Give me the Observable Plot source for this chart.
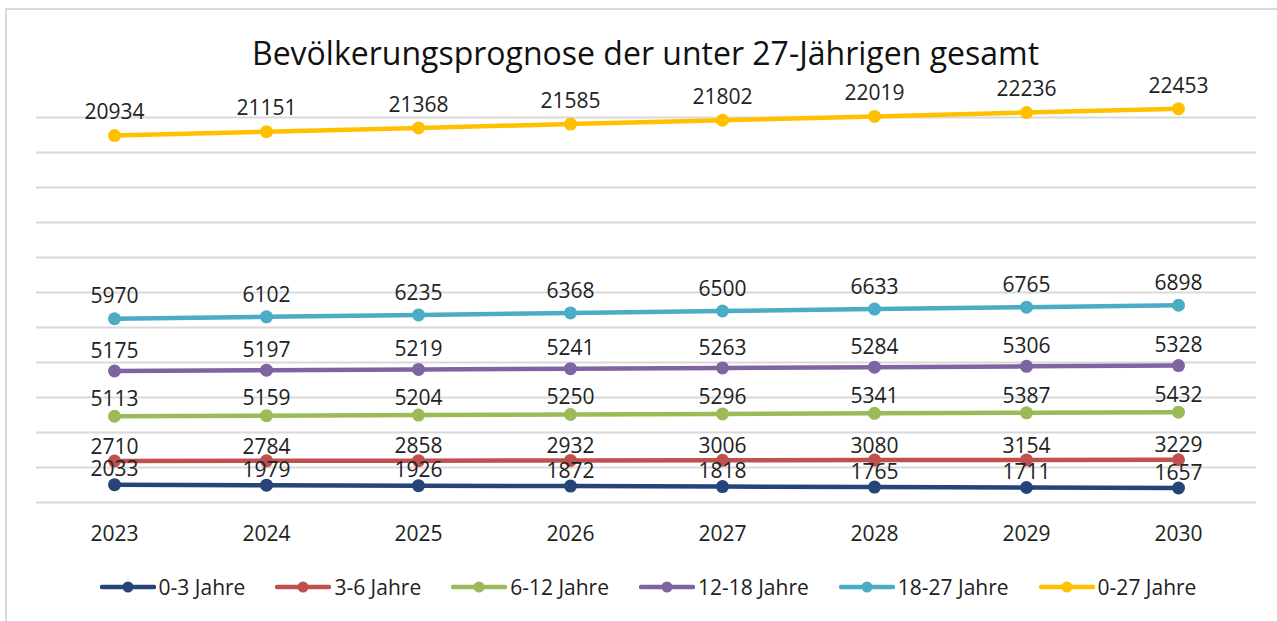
<!DOCTYPE html>
<html>
<head>
<meta charset="utf-8">
<script src="https://cdn.jsdelivr.net/npm/d3@7"></script>
<script src="https://cdn.jsdelivr.net/npm/@observablehq/plot@0.6"></script>
<style>
  html, body { margin: 0; padding: 0; background: #fff; }
  #wrap { position: relative; width: 1277px; height: 621px; overflow: hidden; font-family: "Open Sans", sans-serif; }
  #frame { position: absolute; left: 5px; top: 8px; width: 1300px; height: 700px; border-left: 2px solid #d9d9d9; border-top: 2px solid #d9d9d9; }
  #title { position: absolute; left: 0; width: 1291px; top: 31px; text-align: center; font-size: 32px; color: #111; white-space: nowrap; }
  #chart { position: absolute; left: 0; top: 0; }
  #legend { position: absolute; left: 36px; width: 1224px; top: 573px; display: flex; justify-content: center; gap: 30px; font-size: 21px; color: #222; }
  .item { display: flex; align-items: center; gap: 3px; white-space: nowrap; }
</style>
</head>
<body>
<div id="wrap">
  <div id="frame"></div>
  <div id="chart"></div>
  <div id="title">Bevölkerungsprognose der unter 27-Jährigen gesamt</div>
  <div id="legend"></div>
</div>
<script>
const years = ["2023", "2024", "2025", "2026", "2027", "2028", "2029", "2030"];
const seriesNames = ["0-3 Jahre", "3-6 Jahre", "6-12 Jahre", "12-18 Jahre", "18-27 Jahre", "0-27 Jahre"];
const v0_3   = [2033, 1979, 1926, 1872, 1818, 1765, 1711, 1657];
const v3_6   = [2710, 2784, 2858, 2932, 3006, 3080, 3154, 3229];
const v6_12  = [5113, 5159, 5204, 5250, 5296, 5341, 5387, 5432];
const v12_18 = [5175, 5197, 5219, 5241, 5263, 5284, 5306, 5328];
const v18_27 = [5970, 6102, 6235, 6368, 6500, 6633, 6765, 6898];
const v0_27  = [20934, 21151, 21368, 21585, 21802, 22019, 22236, 22453];
const seriesValues = [v0_3, v3_6, v6_12, v12_18, v18_27, v0_27];

// styles (separate from data)
const colors = ["#264478", "#C0504D", "#9BBB59", "#8064A2", "#4BACC6", "#FFC000"];
const labelDy = [-15, -14, -17, -20, -22, -23];

// stacked line chart table (cumulative per year)
const table = [];
years.forEach((yr, i) => {
  let cum = 0;
  seriesNames.forEach((s, k) => {
    cum += seriesValues[k][i];
    table.push({year: yr, series: s, value: seriesValues[k][i], top: cum});
  });
});

const textColor = "#222";
const marks = [
  Plot.gridY({ticks: d3.range(0, 44001, 4000), stroke: "#d9d9d9", strokeOpacity: 1, strokeWidth: 2}),
  Plot.axisX({tickSize: 0, tickPadding: 24, fontSize: 21, fill: textColor, label: null}),
  Plot.line(table, {x: "year", y: "top", z: "series", stroke: "series", strokeWidth: 4.5}),
  Plot.dot(table, {x: "year", y: "top", fill: "series", r: 6.5})
];
seriesNames.forEach((s, k) => {
  marks.push(Plot.text(table, {filter: d => d.series === s, x: "year", y: "top", text: d => String(d.value), dy: labelDy[k], fontSize: 21, fill: textColor}));
});

const chart = Plot.plot({
  width: 1277,
  height: 621,
  marginLeft: 36,
  marginRight: 21,
  marginTop: 117,
  marginBottom: 119,
  style: {fontFamily: "Open Sans, sans-serif", background: "transparent", overflow: "visible"},
  x: {type: "point", domain: years, padding: 0.5, axis: null, label: null},
  y: {domain: [0, 44000], axis: null},
  color: {domain: seriesNames, range: colors},
  marks
});
document.getElementById("chart").appendChild(chart);

const legend = document.getElementById("legend");
seriesNames.forEach((s, k) => {
  const item = document.createElement("div");
  item.className = "item";
  item.innerHTML = `<svg width="56" height="14"><line x1="2" y1="7" x2="54" y2="7" stroke="${colors[k]}" stroke-width="4.5" stroke-linecap="round"/><circle cx="28" cy="7" r="5.5" fill="${colors[k]}"/></svg><span>${s}</span>`;
  legend.appendChild(item);
});
</script>
</body>
</html>
